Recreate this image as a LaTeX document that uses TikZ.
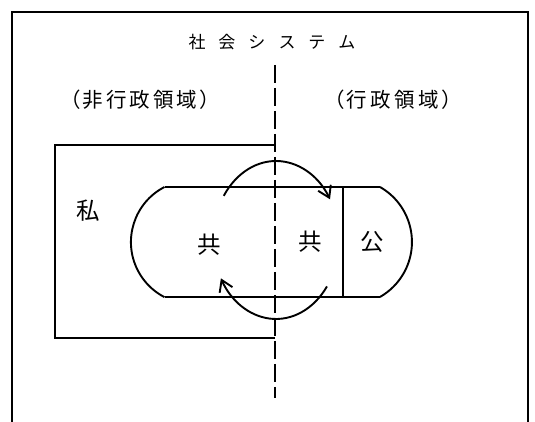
\documentclass[tikz,border=0pt]{standalone}
\usepackage{fontspec}
\newfontfamily\jp{Noto Sans CJK JP}
\usetikzlibrary{arrows.meta,calc}
\begin{document}
\begin{tikzpicture}[x=1pt,y=1pt,
  frameline/.style={line width=1.7pt},
  arcline/.style={line width=1.9pt},
  thinline/.style={line width=1.2pt},
  divider/.style={line width=1.8pt, dash pattern=on 18pt off 5pt},
  looparrow/.style={line width=1.9pt,-{Straight Barb[length=11pt,width=14pt,line width=1.9pt]}},
  titlefont/.style={font=\jp\fontsize{17}{20}\selectfont, inner sep=0pt},
  lbl/.style={font=\jp\fontsize{20.5}{24}\selectfont, inner sep=0pt},
  kanji/.style={font=\jp\fontsize{23.5}{26}\selectfont, inner sep=0pt}
]
\useasboundingbox (0,0) rectangle (535,422);
% outer frame (open at bottom)
\draw[frameline] (12,0) -- (12,410) -- (528,410) -- (528,0);
% title
\node[titlefont] (title) at (272,380) {社\hspace{13pt}会\hspace{13pt}シ\hspace{13pt}ス\hspace{13pt}テ\hspace{13pt}ム};
% region labels
\node[lbl] (nonadmin) at (140,322) {（\hspace{2pt}非\hspace{3pt}行\hspace{3pt}政\hspace{3pt}領\hspace{3pt}域\hspace{2pt}）};
\node[lbl] (admin) at (393,322) {（\hspace{2pt}行\hspace{3.5pt}政\hspace{3.5pt}領\hspace{3.5pt}域\hspace{2pt}）};
% private rectangle
\draw[frameline] (275,277) -- (55,277) -- (55,84) -- (275,84);
% stadium shape
\draw[thinline] (343,235) -- (164.5,235);
\draw[thinline] (343,125) -- (164.5,125);
\draw[arcline] (164.5,235) arc[start angle=117.3, end angle=242.7, radius=62];
\draw[thinline] (343,235) -- (380,235);
\draw[thinline] (343,125) -- (380,125);
\draw[arcline] (380,235) arc[start angle=60.3, end angle=-60.3, radius=63.3];
\draw[arcline] (343,235) -- (343,125);
% dashed divider
\draw[divider] (275,357) -- (275,24);
% circulation arrows
\coordinate (loopc) at (276,182);
\draw[looparrow] ($(loopc)+(146:63 and 79)$) arc[start angle=146, end angle=31, x radius=63, y radius=79];
\draw[looparrow] ($(loopc)+(-36:63 and 79)$) arc[start angle=-36, end angle=-151, x radius=63, y radius=79];
% labels
\node[kanji] (private) at (88,211) {私};
\node[kanji] (commonL) at (209,177) {共};
\node[kanji] (commonR) at (310,180) {共};
\node[kanji] (public) at (372,180) {公};
\end{tikzpicture}
\end{document}
